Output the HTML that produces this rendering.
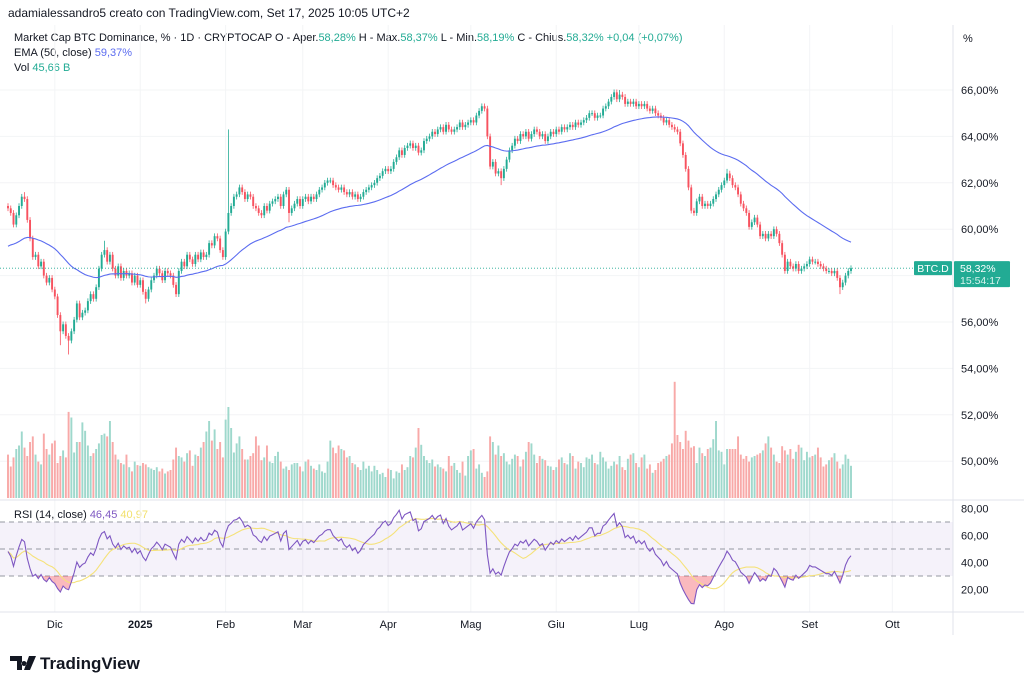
<!DOCTYPE html>
<html><head><meta charset="utf-8"><style>
body{margin:0;background:#fff;width:1024px;height:688px;overflow:hidden;font-family:"Liberation Sans",Arial,sans-serif}
svg{display:block}
</style></head><body>
<svg id="c" width="1024" height="688" xmlns="http://www.w3.org/2000/svg" font-family="Liberation Sans, Arial, sans-serif">
<rect width="1024" height="688" fill="#fff"/>
<text x="8" y="17" font-size="12" fill="#131722">adamialessandro5 creato con TradingView.com, Set 17, 2025 10:05 UTC+2</text>
<g font-size="11" fill="#131722">
<text x="14" y="41">Market Cap BTC Dominance, % · 1D · CRYPTOCAP  O - Aper.<tspan fill="#22ab94">58,28%</tspan>  H - Max.<tspan fill="#22ab94">58,37%</tspan>  L - Min.<tspan fill="#22ab94">58,19%</tspan>  C - Chius.<tspan fill="#22ab94">58,32%  +0,04 (+0,07%)</tspan></text>
<text x="14" y="56">EMA (50, close)  <tspan fill="#5b6cf0">59,37%</tspan></text>
<text x="14" y="71">Vol  <tspan fill="#22ab94">45,66 B</tspan></text>
<text x="14" y="518">RSI (14, close)  <tspan fill="#7e57c2">46,45</tspan>  <tspan fill="#f2e06b">40,97</tspan></text>
</g>
<text x="963" y="42" font-size="11" fill="#131722">%</text>
<g id="grid"></g>
<g id="vol"></g>
<g id="rsiBg"></g>
<g id="candles"></g>
<g id="lines"></g>
<g id="axes"></g>
<g>
<path d="M10 656h12v14h-5v-9h-7z M24 661a2.5 2.5 0 1 0 0.01 0z M29 656h7l-6 14h-6z" fill="#131722"/>
<text x="40" y="669" font-size="17" font-weight="bold" fill="#131722">TradingView</text>
</g>
</svg>
<script>
const closes=[60.9,60.7,60.2,60.6,61.0,61.4,61.3,60.4,59.6,58.8,
58.9,58.4,58.6,58.0,57.7,57.9,57.4,57.1,56.3,55.6,
55.9,55.4,55.2,55.6,56.1,56.8,56.2,56.4,56.5,56.9,
57.2,57.0,57.5,58.3,58.9,59.1,58.6,58.9,58.3,58.0,
58.4,57.9,58.2,58.0,58.1,57.7,58.0,57.6,57.8,57.3,
57.0,57.4,57.8,58.0,58.3,58.1,57.8,58.2,58.1,58.0,
57.6,57.2,58.2,58.6,58.4,58.9,58.7,58.5,58.9,58.7,
59.0,58.8,58.9,59.4,59.3,59.7,59.6,59.1,58.8,59.9,
60.7,61.0,61.4,61.5,61.8,61.6,61.3,61.5,61.4,61.0,
60.9,60.7,60.6,61.0,60.8,61.1,61.2,61.3,61.4,61.0,
61.5,61.7,60.7,60.9,61.1,61.3,61.0,61.3,61.4,61.2,
61.4,61.3,61.5,61.7,61.8,62.0,62.1,62.1,61.9,61.8,
61.7,61.8,61.6,61.5,61.6,61.4,61.5,61.3,61.4,61.6,
61.7,61.8,61.9,62.0,62.2,62.3,62.5,62.6,62.5,62.6,
62.9,63.1,63.4,63.2,63.5,63.6,63.7,63.5,63.6,63.3,
63.4,63.8,63.9,64.0,64.2,64.1,64.3,64.4,64.2,64.5,
64.3,64.2,64.3,64.4,64.6,64.4,64.5,64.6,64.7,64.6,
64.9,65.1,65.3,65.2,64.0,62.7,62.9,62.4,62.5,62.2,
62.6,63.0,63.4,63.6,63.9,63.8,64.1,64.0,64.2,63.9,
64.1,64.3,64.2,64.0,64.1,63.8,64.0,64.2,64.1,64.3,
64.2,64.4,64.3,64.4,64.5,64.4,64.6,64.5,64.6,64.7,
64.8,65.0,65.0,64.8,64.9,64.9,65.2,65.3,65.5,65.7,
65.9,65.6,65.8,65.7,65.4,65.5,65.4,65.5,65.3,65.4,
65.3,65.4,65.2,65.1,65.2,65.0,64.9,64.8,64.6,64.7,
64.5,64.4,64.3,64.2,63.7,63.2,62.6,61.8,60.8,60.7,
61.2,61.4,61.0,61.1,61.0,61.1,61.3,61.5,61.7,61.9,
62.1,62.4,62.2,61.9,61.8,61.5,61.1,60.9,60.7,60.1,
60.3,60.5,60.2,59.7,59.8,59.6,59.8,59.7,60.0,59.8,
59.4,58.9,58.2,58.6,58.4,58.3,58.5,58.2,58.3,58.4,
58.5,58.7,58.6,58.6,58.5,58.4,58.3,58.2,58.2,58.1,
58.2,57.9,57.5,57.7,58.0,58.2,58.32];
const firstOpen=61.0;
const highOverrides={80:64.3,6:61.6,35:59.5,222:66.0,261:62.6};
const lowOverrides={22:54.6,19:55.0,50:56.8,102:60.3,179:61.9,302:57.2};
const volumes=[62,45,58,70,75,95,72,60,80,88,62,52,48,92,70,62,78,82,50,60,68,58,123,115,65,80,80,108,96,75,
60,64,70,78,90,92,88,110,80,62,55,50,48,62,44,38,52,47,46,50,48,44,42,40,44,38,42,35,38,40,
55,72,60,58,52,64,68,46,62,60,72,80,95,110,82,98,70,80,58,112,130,100,65,78,88,70,55,55,60,64,
88,75,54,58,75,52,50,60,66,52,42,45,40,48,50,50,45,38,52,55,46,42,40,48,38,36,52,82,72,64,
75,70,68,58,60,50,48,44,40,52,42,46,38,46,40,34,36,30,42,40,28,38,36,48,40,44,60,58,72,100,
76,60,54,50,55,45,48,44,42,38,60,46,50,40,36,52,32,60,68,70,42,48,36,30,38,88,80,62,75,60,
64,52,48,56,62,60,45,55,66,80,78,62,50,60,56,54,46,45,40,44,55,58,50,48,64,60,42,52,50,44,
58,56,62,50,48,66,58,52,42,46,52,48,60,44,40,56,62,64,50,44,58,62,42,48,36,40,50,52,56,60,
62,78,166,90,80,70,96,82,72,74,50,72,64,60,70,72,84,110,68,66,48,70,70,70,70,88,62,56,60,52,
58,60,62,64,68,78,88,72,62,52,50,74,68,62,70,56,66,76,72,54,66,58,60,62,72,58,45,48,54,58,
64,52,42,48,62,56,46];
const priceTicks=[50,52,54,56,58,60,62,64,66];
const rsiTicks=[20,40,60,80];
const monthLabels=["Dic","2025","Feb","Mar","Apr","Mag","Giu","Lug","Ago","Set","Ott"];
const monthDayIndex=[17,48,79,107,138,168,199,229,260,291,321];
const emaSeed=59.2;
const rsiSeedGain=0.1, rsiSeedLoss=0.1;

const NS="http://www.w3.org/2000/svg";
function mk(tag,attrs,parent){const e=document.createElementNS(NS,tag);for(const k in attrs)e.setAttribute(k,attrs[k]);parent.appendChild(e);return e;}
const N=closes.length;
const xStep=(851-8)/306;
const X=i=>8+i*xStep;
const Y=v=>90+(66-v)*23.2;
const RY=v=>522+(70-v)*1.35;
const VY=v=>498-v*0.7;

const grid=document.getElementById('grid');
const axes=document.getElementById('axes');
const vol=document.getElementById('vol');
const candles=document.getElementById('candles');
const lines=document.getElementById('lines');
const rsiBg=document.getElementById('rsiBg');

priceTicks.forEach(t=>{
 let l=mk('line',{x1:0,x2:953,y1:Y(t),y2:Y(t),stroke:'#f3f4f6','stroke-width':1},grid);
 
 
 let tx=mk('text',{x:961,y:Y(t)+4,'font-size':11,fill:'#131722'},axes);
 tx.textContent=t.toFixed(2).replace('.',',')+'%';
 
 
});
monthDayIndex.forEach((d,k)=>{
 let l=mk('line',{x1:X(d),x2:X(d),y1:25,y2:612,stroke:'#f3f4f6','stroke-width':1},grid);
 
 
 let tx=mk('text',{x:X(d),y:628,'font-size':11,fill:'#131722','text-anchor':'middle','font-weight':k===1?'bold':'normal'},axes);
 tx.textContent=monthLabels[k];
 
 
});
let s1=mk('line',{x1:953,x2:953,y1:25,y2:635,stroke:'#e0e3eb'},axes);


let s2=mk('line',{x1:0,x2:1024,y1:500,y2:500,stroke:'#e0e3eb'},axes);


let s3=mk('line',{x1:0,x2:1024,y1:612,y2:612,stroke:'#e0e3eb'},axes);



const opens=closes.map((c,i)=>i===0?firstOpen:closes[i-1]);
const bw=Math.max(1.4,xStep*0.7);
for(let i=0;i<N;i++){
 const v=volumes[i]!==undefined?volumes[i]:40;
 const up=closes[i]>=opens[i];
 const r=mk('rect',{x:X(i)-bw/2,y:VY(v),width:bw,height:498-VY(v),fill:up?'#9ed8cc':'#f8a9a8'},vol);
 
 
}
for(let i=0;i<N;i++){
 const o=opens[i],c=closes[i],up=c>=o;
 const hi=highOverrides[i]!==undefined?highOverrides[i]:Math.max(o,c)+0.12;
 const lo=lowOverrides[i]!==undefined?lowOverrides[i]:Math.min(o,c)-0.12;
 const col=up?'#22ab94':'#f7525f';
 const w=mk('line',{x1:X(i),x2:X(i),y1:Y(hi),y2:Y(lo),stroke:col,'stroke-width':0.8},candles);
 
 
 const top=Y(Math.max(o,c)),h=Math.max(1,Math.abs(Y(o)-Y(c)));
 const b=mk('rect',{x:X(i)-bw/2,y:top,width:bw,height:h,fill:col},candles);
 
 
}
const a=2/51;let e=emaSeed;const ema=[];
closes.forEach(c=>{e=c*a+e*(1-a);ema.push(e);});
const emaPath=mk('polyline',{points:ema.map((v,i)=>X(i)+','+Y(v)).join(' '),fill:'none',stroke:'#5b6cf0','stroke-width':1.1},lines);


const lp=mk('line',{x1:0,x2:953,y1:Y(closes[N-1]),y2:Y(closes[N-1]),stroke:'#22ab94','stroke-width':0.8,'stroke-dasharray':'1,2'},lines);


const ly=Y(closes[N-1]);
let bl=mk('rect',{x:914,y:ly-7,width:38,height:14,fill:'#22ab94',rx:1},axes);


let blt=mk('text',{x:933,y:ly+4,'font-size':10.5,fill:'#fff','text-anchor':'middle'},axes);
blt.textContent='BTC.D';


let pb=mk('rect',{x:954,y:ly-7,width:56,height:26,fill:'#22ab94',rx:1},axes);


let pt=mk('text',{x:960,y:ly+4,'font-size':10.5,fill:'#fff'},axes);
pt.textContent=closes[N-1].toFixed(2).replace('.',',')+'%';


let ct=mk('text',{x:960,y:ly+16,'font-size':10.5,fill:'#d6f2ec'},axes);
ct.textContent='15:54:17';



let ag=rsiSeedGain,al=rsiSeedLoss;const rsi=[];
for(let i=0;i<N;i++){const d=closes[i]-opens[i];ag=(ag*13+Math.max(d,0))/14;al=(al*13+Math.max(-d,0))/14;rsi.push(100-100/(1+ag/al));}
const rsiMa=rsi.map((v,i)=>{const s=rsi.slice(Math.max(0,i-13),i+1);return s.reduce((p,q)=>p+q,0)/s.length;});
let band=mk('rect',{x:0,y:RY(70),width:953,height:RY(30)-RY(70),fill:'#7e57c2','fill-opacity':0.08},rsiBg);


[70,50,30].forEach(t=>{
 const l=mk('line',{x1:0,x2:953,y1:RY(t),y2:RY(t),stroke:'#9598a1','stroke-width':1,'stroke-dasharray':'5,4'},rsiBg);
 
 
});
rsiTicks.forEach(t=>{
 const tx=mk('text',{x:961,y:RY(t)+4,'font-size':11,fill:'#131722'},axes);
 tx.textContent=t.toFixed(2).replace('.',',');
 
 
});
const defs=mk('defs',{},lines);
const cp=mk('clipPath',{id:'os'},defs);
mk('rect',{x:0,y:RY(30),width:953,height:100},cp);
const area=mk('polygon',{points:X(0)+','+RY(30)+' '+rsi.map((v,i)=>X(i)+','+RY(v)).join(' ')+' '+X(N-1)+','+RY(30),fill:'#f23645','fill-opacity':0.35,'clip-path':'url(#os)'},lines);


const maL=mk('polyline',{points:rsiMa.map((v,i)=>X(i)+','+RY(v)).join(' '),fill:'none',stroke:'#f5e27a','stroke-width':1.1},lines);


const rl=mk('polyline',{points:rsi.map((v,i)=>X(i)+','+RY(v)).join(' '),fill:'none',stroke:'#7e57c2','stroke-width':1.1},lines);


</script>
</body></html>
